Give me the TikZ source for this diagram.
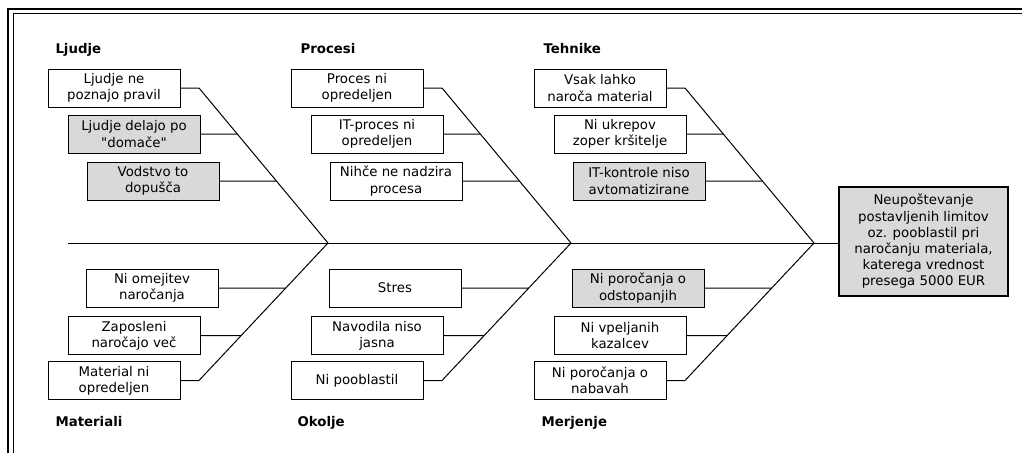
\documentclass[tikz,border=0pt]{standalone}
\usepackage{fontspec}
\setmainfont{DejaVu Sans}[Ligatures=TeXOff]
\usetikzlibrary{calc}

\definecolor{boxgray}{RGB}{217,217,217}

\tikzset{
  cause/.style={draw, fill=white, minimum width=132pt, minimum height=38pt,
    inner sep=0pt, align=center, font=\fontsize{13.33}{16.2}\selectfont},
  shaded/.style={cause, fill=boxgray},
  group/.style={anchor=base west, inner sep=0pt,
    font=\fontsize{13.33}{16}\selectfont\bfseries},
}

\begin{document}
\begin{tikzpicture}[x=1pt, y=-1pt, line width=1pt]

\useasboundingbox (0,0) rectangle (1022,453);

% Frame
\draw[line width=2pt] (8,453) -- (8,9) -- (1022,9);
\draw (13,453) -- (13,13.5) -- (1022,13.5);

% Spine and joints
\coordinate (S) at (68,243);
\coordinate (J1) at (328,243);
\coordinate (J2) at (571,243);
\coordinate (J3) at (814,243);

% Bone ends
\coordinate (T1) at (199,88);
\coordinate (T2) at (442,88);
\coordinate (T3) at (685,88);
\coordinate (B1) at (199,380.5);
\coordinate (B2) at (442,380.5);
\coordinate (B3) at (685,380.5);

% Effect
\node[shaded, line width=2pt, minimum width=169pt, minimum height=109pt]
  (head) at (923.5,241.5) {Neupoštevanje\\postavljenih limitov\\oz. pooblastil pri\\naročanju materiala,\\katerega vrednost\\presega 5000 EUR};

\draw (S) -- (S -| head.west);

% Group labels
\node[group] (ljudje) at (55,53) {Ljudje};
\node[group] (procesi) at (300,53) {Procesi};
\node[group] (tehnike) at (543,53) {Tehnike};
\node[group] (materiali) at (55,426) {Materiali};
\node[group] (okolje) at (297,426) {Okolje};
\node[group] (merjenje) at (541,426) {Merjenje};

% Ljudje
\node[cause] (lj1) at (114,88) {Ljudje ne\\poznajo pravil};
\node[shaded] (lj2) at (134,134) {Ljudje delajo po\\"domače"};
\node[shaded] (lj3) at (153,181) {Vodstvo to\\dopušča};

% Procesi
\node[cause] (pr1) at (357,88) {Proces ni\\opredeljen};
\node[cause] (pr2) at (377,134) {IT-proces ni\\opredeljen};
\node[cause] (pr3) at (396,181) {Nihče ne nadzira\\procesa};

% Tehnike
\node[cause] (te1) at (600,88) {Vsak lahko\\naroča material};
\node[cause] (te2) at (620,134) {Ni ukrepov\\zoper kršitelje};
\node[shaded] (te3) at (639,181) {IT-kontrole niso\\avtomatizirane};

% Materiali
\node[cause] (ma1) at (152,288) {Ni omejitev\\naročanja};
\node[cause] (ma2) at (134,335.5) {Zaposleni\\naročajo več};
\node[cause] (ma3) at (114,380.5) {Material ni\\opredeljen};

% Okolje
\node[cause] (ok1) at (395,288) {Stres};
\node[cause] (ok2) at (377,335.5) {Navodila niso\\jasna};
\node[cause] (ok3) at (357,380.5) {Ni pooblastil};

% Merjenje
\node[shaded] (me1) at (638,288) {Ni poročanja o\\odstopanjih};
\node[cause] (me2) at (620,335.5) {Ni vpeljanih\\kazalcev};
\node[cause] (me3) at (600,380.5) {Ni poročanja o\\nabavah};

% Upper bones
\draw (lj1.east) -- (T1) -- (J1);
\draw (lj2.east) -- (intersection of T1--J1 and lj2.east--lj2.west);
\draw (lj3.east) -- (intersection of T1--J1 and lj3.east--lj3.west);
\draw (pr1.east) -- (T2) -- (J2);
\draw (pr2.east) -- (intersection of T2--J2 and pr2.east--pr2.west);
\draw (pr3.east) -- (intersection of T2--J2 and pr3.east--pr3.west);
\draw (te1.east) -- (T3) -- (J3);
\draw (te2.east) -- (intersection of T3--J3 and te2.east--te2.west);
\draw (te3.east) -- (intersection of T3--J3 and te3.east--te3.west);

% Lower bones
\draw (ma3.east) -- (B1) -- (J1);
\draw (ma1.east) -- (intersection of B1--J1 and ma1.east--ma1.west);
\draw (ma2.east) -- (intersection of B1--J1 and ma2.east--ma2.west);
\draw (ok3.east) -- (B2) -- (J2);
\draw (ok1.east) -- (intersection of B2--J2 and ok1.east--ok1.west);
\draw (ok2.east) -- (intersection of B2--J2 and ok2.east--ok2.west);
\draw (me3.east) -- (B3) -- (J3);
\draw (me1.east) -- (intersection of B3--J3 and me1.east--me1.west);
\draw (me2.east) -- (intersection of B3--J3 and me2.east--me2.west);

\end{tikzpicture}
\end{document}
